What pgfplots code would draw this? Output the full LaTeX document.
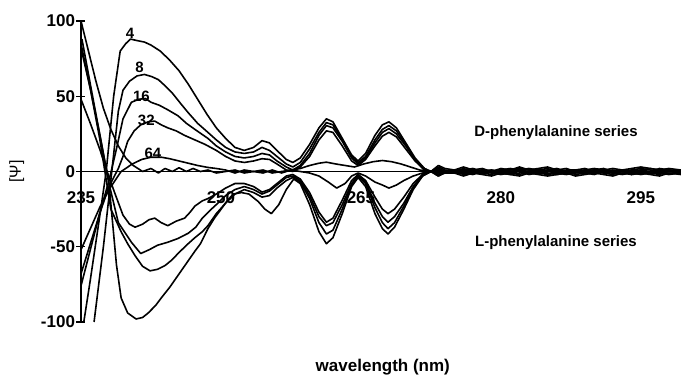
\documentclass[border=0pt]{standalone}
\usepackage{fontspec}
\setmainfont{Liberation Sans}
\usepackage{pgfplots}
\pgfplotsset{compat=1.18}
\tikzset{crv/.style={black, solid, line width=1.6pt, line join=round, mark=none}}
\begin{document}
\begin{tikzpicture}[x=1pt,y=1pt]
\useasboundingbox (0,0) rectangle (681,375);
\begin{axis}[
  at={(81pt,53pt)}, anchor=south west,
  width=600pt, height=301pt, scale only axis,
  xmin=235, xmax=299.3, ymin=-100, ymax=100,
  axis x line=middle, axis y line=left,
  axis line style={-, line width=1.3pt},
  hide obscured x ticks=false,
  xtick={235,250,265,280,295},
  xticklabels={235,250,265,280,295},
  ytick={-100,-50,0,50,100},
  yticklabels={-100,-50,0,50,100},
  x tick style={draw=none},
  y tick style={line width=1.1pt, black},
  major tick length=9pt, tick align=center,
  xticklabel style={font=\bfseries\fontsize{17}{20}\selectfont, yshift=-12pt},
  yticklabel style={font=\bfseries\fontsize{17}{20}\selectfont, xshift=2pt},
  xlabel={wavelength (nm)},
  ylabel={[Ψ]},
  every axis x label/.style={at={(axis description cs:0.503,-0.1495)}, anchor=center, font=\bfseries\fontsize{17}{20}\selectfont},
  every axis y label/.style={at={(axis description cs:-0.107,0.5)}, anchor=center, rotate=90, font=\fontsize{16}{19}\selectfont},
  clip=false,
]
% D-4
\addplot[crv] coordinates {(235.3,-100)(236.0,-72)(237.0,-30)(237.7,0)(238.5,50)(239.2,80)(239.8,85)(240.3,88)(241.0,87)(241.8,86)(242.5,84)(243.5,80)(244.5,74)(245.5,67)(246.5,58)(247.5,48)(248.5,38)(249.5,29)(250.5,22)(251.5,16)(252.5,14)(253.5,16)(254.4,20.5)(255.2,19)(256.0,14)(257.0,8)(257.7,6)(258.5,9)(259.5,18)(260.5,29)(261.3,35)(262.0,33)(263.0,22)(264.0,11)(264.7,7)(265.5,12)(266.5,24)(267.3,31)(268.0,33)(268.8,29)(269.8,19)(270.8,9)(271.8,2)(272.5,0)(273.3,4)(274,2)(275,1)(276,3)(277,1)(278,2)(279,0)(280,2)(281,1)(282,3)(283,1)(284,2)(285,3)(286,1)(287,2)(288,0)(289,1)(290,2)(291,1)(292,0)(293,1)(294,2)(295,3)(296,2)(297,1)(298,2)(299.3,1)};
% D-8
\addplot[crv] coordinates {(236.4,-100)(237.4,-50)(238.3,0)(239.0,40)(239.5,54)(240.2,60)(241.0,63.5)(241.8,64.5)(242.6,63)(243.3,61)(244.0,57)(244.8,52)(245.7,45)(246.5,39)(247.5,32)(248.6,26)(249.5,21)(250.5,16)(251.5,13)(252.5,12)(253.5,13)(254.4,16)(255.2,14)(256.0,10)(257.0,5)(257.7,3)(258.5,6)(259.5,15)(260.5,26)(261.3,32.5)(262.0,31)(263.0,21)(264.0,10)(264.7,6)(265.5,10)(266.5,21)(267.3,28)(268.0,30.5)(268.8,27)(269.8,18)(270.8,8)(271.8,2)(272.5,0)(273.3,3)(274,1)(275,0)(276,2)(277,0)(278,1)(279,-1)(280,1)(281,2)(282,1)(283,0)(284,1)(285,2)(286,0)(287,1)(288,1)(289,0)(290,1)(291,0)(292,1)(293,0)(294,1)(295,2)(296,1)(297,0)(298,1)(299.3,0)};
% D-16
\addplot[crv] coordinates {(235.0,-76)(236.0,-52)(237.0,-28)(238.0,-6)(238.8,15)(239.5,35)(240.4,46)(241.2,48)(241.9,48.5)(242.5,46)(243.4,44)(244.3,41)(245.4,37)(246.3,32)(247.2,28)(248.6,22)(249.5,17)(250.5,13)(251.5,10)(252.5,9)(253.5,10)(254.4,12)(255.2,11)(256.0,7)(257.0,3)(257.7,1)(258.5,4)(259.5,12)(260.5,24)(261.3,30.5)(262.0,29)(263.0,20)(264.0,9)(264.7,5)(265.5,9)(266.5,19)(267.3,26)(268.0,28.5)(268.8,25)(269.8,17)(270.8,8)(271.8,1)(272.5,0)(273.3,2)(274,0)(275,1)(276,1)(277,2)(278,0)(279,1)(280,0)(281,1)(282,2)(283,1)(284,0)(285,1)(286,2)(287,0)(288,1)(289,2)(290,0)(291,1)(292,2)(293,1)(294,0)(295,1)(296,2)(297,1)(298,0)(299.3,1)};
% D-32
\addplot[crv] coordinates {(235.0,-68)(236.0,-48)(237.0,-28)(238.0,-10)(239.0,2)(239.5,10)(240.0,20)(240.7,27)(241.4,31)(242.2,33)(242.9,33.5)(243.6,31)(244.3,29)(245.2,27)(246.1,24)(247.2,21)(248.3,18)(249.5,14)(250.5,10)(251.5,7)(252.5,6)(253.5,7)(254.4,8.5)(255.2,8)(256.0,5)(257.0,1)(257.7,0)(258.5,3)(259.5,10)(260.5,21)(261.3,27)(262.0,26)(263.0,17)(264.0,7)(264.7,4)(265.5,8)(266.5,17)(267.3,23.5)(268.0,26)(268.8,23)(269.8,15)(270.8,7)(271.8,1)(272.5,0)(273.3,2)(274,0)(275,0)(276,1)(277,0)(278,1)(279,0)(280,1)(281,0)(282,1)(283,2)(284,1)(285,0)(286,1)(287,0)(288,1)(289,0)(290,1)(291,2)(292,0)(293,1)(294,0)(295,1)(296,0)(297,2)(298,1)(299.3,0)};
% D-64
\addplot[crv] coordinates {(235.0,-52)(236.0,-38)(237.0,-24)(238.0,-12)(239.3,0)(240.5,5)(241.5,8)(242.5,9.5)(243.6,9.5)(244.5,8.5)(245.5,7)(246.5,5.5)(247.5,4)(248.6,2.7)(249.5,2)(250.5,1)(251.5,-1)(252.5,1)(253.5,0)(254.5,-1)(255.5,1)(256.5,-1)(257.5,1)(258.5,2)(259.5,4)(260.5,5.5)(261.3,6.2)(262.3,5)(263.3,4)(264.3,3)(265.3,5)(266.3,6.5)(267.3,7.3)(268.3,6.5)(269.3,5)(270.3,3)(271.3,1)(272.3,0)(273.3,1)(274,0)(275,0)(276,-1)(277,1)(278,0)(279,1)(280,-1)(281,0)(282,1)(283,0)(284,-1)(285,0)(286,1)(287,0)(288,-1)(289,0)(290,1)(291,0)(292,-1)(293,0)(294,1)(295,0)(296,-1)(297,0)(298,1)(299.3,0)};
% L-4
\addplot[crv] coordinates {(235.1,88)(236.0,58)(237.0,25)(238.0,-8)(238.8,-62)(239.3,-84)(240.0,-94)(240.9,-98)(241.6,-97)(242.2,-94)(243.0,-89)(243.6,-84)(244.5,-77)(245.4,-69)(246.3,-61)(247.2,-53)(247.8,-48)(248.6,-38)(249.3,-31)(249.9,-26)(250.6,-20)(251.3,-15)(252.2,-14)(253.0,-15)(254.0,-20)(254.7,-25)(255.4,-28)(256.2,-22)(257.0,-12)(257.8,-5)(258.5,-8)(259.5,-22)(260.5,-40)(261.3,-48)(262.0,-44)(263.0,-28)(264.0,-10)(264.7,-4)(265.5,-10)(266.5,-28)(267.3,-38)(267.9,-41.5)(268.6,-37)(269.6,-25)(270.6,-12)(271.6,-3)(272.5,0)(273.3,-3)(274,-1)(275,-1)(276,-3)(277,-1)(278,-2)(279,-3)(280,-1)(281,-2)(282,-3)(283,-1)(284,-2)(285,-3)(286,-2)(287,-1)(288,-3)(289,-2)(290,-1)(291,-2)(292,-3)(293,-1)(294,-2)(295,-1)(296,-2)(297,-3)(298,-1)(299.3,-2)};
% L-8
\addplot[crv] coordinates {(235.0,85)(236.0,55)(237.0,22)(238.2,-25)(239.3,-40)(240.0,-48)(240.8,-56)(241.6,-63)(242.4,-66)(243.2,-65)(244.0,-62.5)(244.7,-59)(245.4,-54.5)(246.3,-49)(247.2,-44)(248.0,-40)(248.6,-36)(249.5,-28)(250.5,-21)(251.5,-15)(252.5,-12)(253.5,-14)(254.4,-17)(255.2,-16)(256.0,-11)(257.0,-6)(257.7,-4)(258.5,-7)(259.5,-18)(260.5,-34)(261.3,-41.5)(262.0,-39)(263.0,-25)(264.0,-9)(264.7,-3)(265.5,-8)(266.5,-24)(267.3,-34)(267.9,-38)(268.6,-34)(269.6,-23)(270.6,-11)(271.6,-3)(272.5,0)(273.3,-3)(274,0)(275,0)(276,-2)(277,-1)(278,-1)(279,-2)(280,0)(281,-1)(282,-2)(283,0)(284,-1)(285,-2)(286,-1)(287,0)(288,-2)(289,-1)(290,0)(291,-1)(292,-2)(293,0)(294,-1)(295,-2)(296,-1)(297,-2)(298,0)(299.3,-1)};
% L-16
\addplot[crv] coordinates {(235.0,82)(236.0,55)(237.0,25)(238.0,-8)(239.0,-34)(240.4,-47)(241.4,-54.5)(242.3,-52)(243.2,-49)(244.3,-47)(245.4,-44.5)(246.5,-41)(247.3,-37)(248.0,-31)(248.8,-26)(249.5,-22)(250.5,-16)(251.5,-12)(252.5,-10)(253.5,-12)(254.4,-15)(255.2,-13)(256.0,-9)(257.0,-4)(257.7,-3)(258.5,-6)(259.5,-16)(260.5,-30)(261.3,-36)(262.0,-34)(263.0,-22)(264.0,-8)(264.7,-2)(265.5,-7)(266.5,-21)(267.3,-30)(267.9,-33.7)(268.6,-30)(269.6,-21)(270.6,-10)(271.6,-2)(272.5,0)(273.3,-2)(274,0)(275,-1)(276,-1)(277,-2)(278,0)(279,-1)(280,-2)(281,-1)(282,0)(283,-2)(284,-1)(285,-1)(286,-2)(287,-1)(288,0)(289,-1)(290,-2)(291,0)(292,-1)(293,-2)(294,-1)(295,0)(296,-1)(297,-1)(298,-2)(299.3,-1)};
% L-32
\addplot[crv] coordinates {(235.0,48)(236.0,32)(237.0,15)(237.8,0)(238.6,-14)(239.5,-29)(240.2,-35)(240.8,-37)(241.6,-35)(242.3,-32)(242.9,-31)(243.6,-34)(244.3,-36)(245.2,-33)(246.1,-31)(246.7,-27)(247.2,-23)(248.0,-19.5)(248.6,-18)(249.5,-15)(250.5,-11)(251.5,-8)(252.5,-8)(253.5,-10)(254.4,-13.7)(255.2,-12)(256.0,-8)(257.0,-3)(257.7,-2)(258.5,-5)(259.5,-14)(260.5,-27)(261.3,-33.7)(262.0,-31)(263.0,-19)(264.0,-6)(264.7,-2)(265.5,-6)(266.5,-17)(267.3,-25)(267.9,-28)(268.6,-25)(269.6,-17)(270.6,-8)(271.6,-2)(272.5,0)(273.3,-2)(274,0)(275,0)(276,-1)(277,0)(278,-1)(279,0)(280,-1)(281,-2)(282,-1)(283,0)(284,-1)(285,0)(286,-1)(287,-2)(288,-1)(289,0)(290,-1)(291,0)(292,-1)(293,0)(294,-2)(295,-1)(296,0)(297,-1)(298,0)(299.3,-1)};
% L-64
\addplot[crv] coordinates {(235.0,100)(235.8,80)(236.6,60)(237.4,42)(238.2,28)(239.0,17)(239.8,9)(240.6,4)(241.6,0)(242.5,2)(243.3,-1)(244.0,2)(244.8,0)(245.5,2.5)(246.3,0)(247.0,2)(247.8,0)(248.6,1)(249.5,-1)(250.5,0)(251.5,1)(252.5,-1)(253.5,0)(254.5,1)(255.5,-1)(256.5,0)(257.5,1)(258.5,0)(259.5,-1)(260.5,-3)(261.5,-7)(262.4,-11)(263.3,-8)(264.0,-3)(264.7,-1)(265.5,-3)(266.5,-7)(267.3,-9)(268.0,-11)(268.8,-9)(269.6,-6)(270.6,-3)(271.6,-1)(272.5,0)(273.3,-1)(274,0)(275,1)(276,0)(277,-1)(278,1)(279,0)(280,-1)(281,0)(282,1)(283,-1)(284,0)(285,1)(286,0)(287,-1)(288,0)(289,1)(290,0)(291,-1)(292,0)(293,1)(294,0)(295,-1)(296,0)(297,1)(298,0)(299.3,0)};
\node[font=\bfseries\fontsize{15}{18}\selectfont] at (axis cs:240.25,91.7) {4};
\node[font=\bfseries\fontsize{15}{18}\selectfont] at (axis cs:241.27,69.1) {8};
\node[font=\bfseries\fontsize{15}{18}\selectfont] at (axis cs:241.48,49.8) {16};
\node[font=\bfseries\fontsize{15}{18}\selectfont] at (axis cs:242.0,34.2) {32};
\node[font=\bfseries\fontsize{15}{18}\selectfont] at (axis cs:242.7,12) {64};
\node[font=\bfseries\fontsize{15}{18}\selectfont] at (axis cs:285.9,25.6) {D-phenylalanine series};
\node[font=\bfseries\fontsize{15}{18}\selectfont] at (axis cs:285.9,-47.5) {L-phenylalanine series};
\end{axis}
\end{tikzpicture}
\end{document}
